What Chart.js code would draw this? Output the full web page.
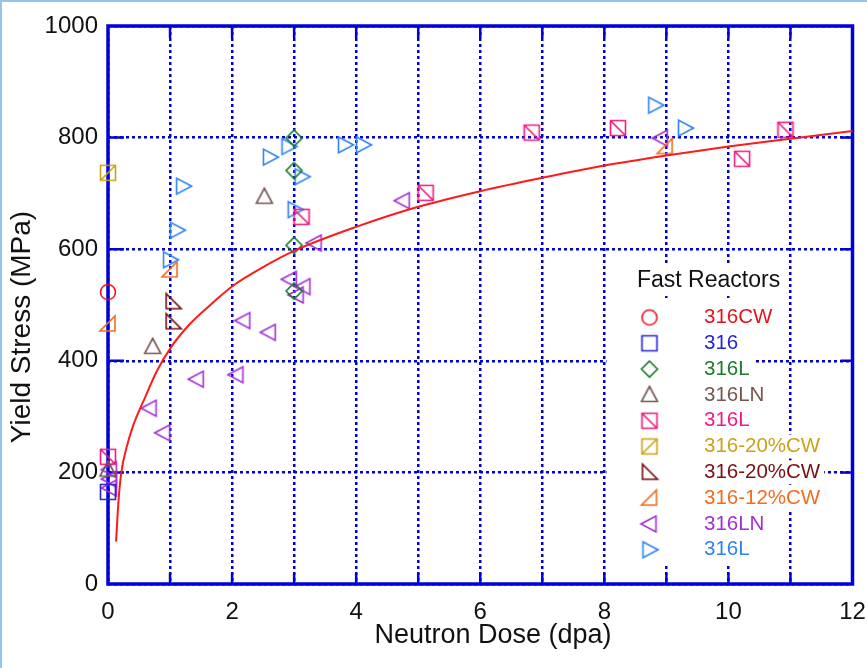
<!DOCTYPE html>
<html>
<head>
<meta charset="utf-8">
<script src="https://cdn.jsdelivr.net/npm/chart.js@4.4.1/dist/chart.umd.min.js"></script>
<style>
  html,body{margin:0;padding:0;background:#fff}
  canvas{display:block}
</style>
</head>
<body>
<canvas id="chart" width="867" height="668"></canvas>
<script>
// Yield stress vs neutron dose - Chart.js scatter
const FONT = '"Liberation Sans", Arial, Helvetica, sans-serif';
const BLUE = '#0000d8';

// axis ticks
const xLabeledTicks = [0, 2, 4, 6, 8, 10, 12];
const yTickStep = 200;
const xTitle = 'Neutron Dose (dpa)';
const yTitle = 'Yield Stress (MPa)';

// series (x = dpa, y = MPa)
const cw316X = [0];
const cw316Y = [523];
const s316X = [0];
const s316Y = [165];
const l316DiaX = [3, 3, 3, 3];
const l316DiaY = [799, 741, 607, 525];
const ln316UpX = [0.72, 2.52, 0];
const ln316UpY = [425, 694, 205];
const l316PinkX = [0, 3.12, 5.12, 6.83, 8.22, 10.22, 10.92];
const l316PinkY = [228, 658, 701, 809, 817, 762, 814];
const cw20GoldX = [0];
const cw20GoldY = [737];
const cw20RedX = [1.05, 1.05];
const cw20RedY = [506, 470];
const cw12X = [0, 1, 8.98];
const cw12Y = [466, 563, 784];
const ln316LeftX = [0.03, 0.03, 0.03, 0.67, 0.89, 1.43, 2.07, 2.18, 2.59, 2.93, 3.04, 3.15, 3.33, 4.75, 8.91];
const ln316LeftY = [205, 188, 172, 315, 271, 367, 375, 472, 451, 546, 518, 533, 611, 687, 799];
const l316RightX = [1, 1.11, 1.21, 2.61, 2.91, 3.01, 3.12, 3.82, 4.11, 8.82, 9.3];
const l316RightY = [581, 634, 713, 765, 784, 671, 730, 787, 787, 858, 817];

// fitted trend line
const fitX = [0.13, 0.17, 0.215, 0.3, 0.4, 0.5, 0.6, 0.78, 1.02, 1.32, 1.72, 2.02, 2.5, 3, 4, 5, 6, 7, 8, 9, 10, 11, 12];
const fitY = [76, 150, 200, 245, 282, 310, 335, 380, 425, 466, 507, 535, 568, 597, 640, 676, 704, 728, 750, 768, 784, 798, 812];

const legendTitle = 'Fast Reactors';

// marker images
function mk(shape, color){
  const c = document.createElement('canvas'); c.width = 22; c.height = 22;
  const g = c.getContext('2d'); g.strokeStyle = color; g.lineWidth = 1.6;
  const m = 11, h = 7.5;
  g.beginPath();
  if(shape==='circle'){ g.arc(m,m,7.5,0,Math.PI*2); }
  else if(shape==='square'){ g.rect(m-h,m-h,2*h,2*h); }
  else if(shape==='diamond'){ g.moveTo(m,m-8); g.lineTo(m+8,m); g.lineTo(m,m+8); g.lineTo(m-8,m); g.closePath(); }
  else if(shape==='triUp'){ g.moveTo(m,m-8.5); g.lineTo(m+8,m+6.5); g.lineTo(m-8,m+6.5); g.closePath(); }
  else if(shape==='sqBack'){ g.rect(m-h,m-h,2*h,2*h); g.moveTo(m-h,m-h); g.lineTo(m+h,m+h); }
  else if(shape==='sqSlash'){ g.rect(m-h,m-h,2*h,2*h); g.moveTo(m-h,m+h); g.lineTo(m+h,m-h); }
  else if(shape==='rtBL'){ g.moveTo(m-7,m-8); g.lineTo(m-7,m+7); g.lineTo(m+8,m+7); g.closePath(); }
  else if(shape==='rtBR'){ g.moveTo(m+7,m-8); g.lineTo(m+7,m+7); g.lineTo(m-8,m+7); g.closePath(); }
  else if(shape==='triLeft'){ g.moveTo(m-8.5,m); g.lineTo(m+6.5,m-8); g.lineTo(m+6.5,m+8); g.closePath(); }
  else if(shape==='triRight'){ g.moveTo(m+8.5,m); g.lineTo(m-6.5,m-8); g.lineTo(m-6.5,m+8); g.closePath(); }
  g.stroke();
  return c;
}

const series = [
  {label:'316CW', xs:cw316X, ys:cw316Y, shape:'circle', color:'#e3141b'},
  {label:'316', xs:s316X, ys:s316Y, shape:'square', color:'#2424d2'},
  {label:'316L', xs:l316DiaX, ys:l316DiaY, shape:'diamond', color:'#1b7a2a'},
  {label:'316LN', xs:ln316UpX, ys:ln316UpY, shape:'triUp', color:'#76574f'},
  {label:'316L', xs:l316PinkX, ys:l316PinkY, shape:'sqBack', color:'#f0197f'},
  {label:'316-20%CW', xs:cw20GoldX, ys:cw20GoldY, shape:'sqSlash', color:'#c9a317'},
  {label:'316-20%CW', xs:cw20RedX, ys:cw20RedY, shape:'rtBL', color:'#7a0f0f'},
  {label:'316-12%CW', xs:cw12X, ys:cw12Y, shape:'rtBR', color:'#f26d1e'},
  {label:'316LN', xs:ln316LeftX, ys:ln316LeftY, shape:'triLeft', color:'#a22fd4'},
  {label:'316L', xs:l316RightX, ys:l316RightY, shape:'triRight', color:'#2f83f2'}
];
series.forEach(s=> s.img = mk(s.shape, s.color));

const datasets = series.map(s=>({
  label: s.label,
  data: s.xs.map((x,i)=>({x, y:s.ys[i]})),
  pointStyle: s.img, pointRadius: 8, pointHoverRadius: 8,
  showLine: false, clip: false
}));
datasets.unshift({
  label: 'fit',
  data: fitX.map((x,i)=>({x, y:fitY[i]})),
  showLine: true, borderColor: '#ff1a1a', borderWidth: 2, pointRadius: 0,
  cubicInterpolationMode: 'monotone', clip: false
});

// white page + light blue edge + axis titles
const pagePlugin = {
  id:'page',
  beforeDraw(chart){ const c=chart.ctx; c.save(); c.fillStyle='#fff'; c.fillRect(0,0,chart.width,chart.height); c.restore(); },
  afterDraw(chart){
    const c=chart.ctx; c.save();
    c.fillStyle='#93c5ee'; c.fillRect(0,0,chart.width,2); c.fillRect(0,0,2,chart.height);
    c.fillStyle='#111'; c.textAlign='center'; c.textBaseline='middle';
    c.font='27px ' + FONT;
    c.fillText(xTitle, 493, 636);
    c.translate(22, 327); c.rotate(-Math.PI/2);
    c.font='28px ' + FONT;
    c.fillText(yTitle, 0, 0);
    c.restore();
  }
};

// solid frame + inward ticks
const framePlugin = {
  id:'frame',
  beforeDatasetsDraw(chart){
    const c = chart.ctx, a = chart.chartArea, xs = chart.scales.x, ys = chart.scales.y;
    c.save(); c.strokeStyle = BLUE; c.lineWidth = 2.5; c.setLineDash([]);
    c.beginPath();
    for(let v=1; v<12; v++){ const px = xs.getPixelForValue(v);
      c.moveTo(px,a.bottom); c.lineTo(px,a.bottom-11); c.moveTo(px,a.top); c.lineTo(px,a.top+12); }
    for(let v=yTickStep; v<1000; v+=yTickStep){ const py = ys.getPixelForValue(v);
      c.moveTo(a.left,py); c.lineTo(a.left+16,py); c.moveTo(a.right,py); c.lineTo(a.right-12,py); }
    c.stroke();
    c.lineWidth = 3.5;
    c.strokeRect(a.left, a.top, a.right-a.left, a.bottom-a.top);
    c.restore();
  }
};

// legend box with title
const legendPlugin = {
  id:'boxLegend',
  afterDatasetsDraw(chart){
    const c = chart.ctx;
    c.save();
    c.fillStyle = '#fff';
    c.fillRect(606.5, 264, 182, 30);
    c.fillRect(606.5, 298, 149, 268);
    c.font = '20.5px ' + FONT;
    c.textBaseline = 'middle';
    const rowY0 = 317.5, rowStep = 25.8;
    series.forEach((s,i)=>{
      const y = rowY0 + i*rowStep;
      const w = c.measureText(s.label).width;
      c.fillStyle = '#fff'; c.fillRect(702, y-12, w+6, 24);
    });
    c.fillStyle = '#111';
    c.font = '23px ' + FONT;
    c.fillText(legendTitle, 637, 281);
    c.font = '20.5px ' + FONT;
    series.forEach((s,i)=>{
      const y = rowY0 + i*rowStep;
      c.drawImage(s.img, 649.5-11, y-11);
      c.fillStyle = s.color; c.fillText(s.label, 704, y);
    });
    c.restore();
  }
};

new Chart(document.getElementById('chart'), {
  type:'scatter',
  data:{ datasets },
  options:{
    responsive:false, animation:false,
    layout:{ padding:{ top:26, right:14.5, left:0, bottom:0 } },
    plugins:{ legend:{display:false}, tooltip:{enabled:false} },
    scales:{
      x:{
        type:'linear', min:0, max:12,
        afterFit(s){ s.height = 84; s.paddingLeft = 0; s.paddingRight = 0; },
        border:{ display:false, dash:[3,3] },
        grid:{ color:BLUE, lineWidth:2.5, drawTicks:false },
        ticks:{ stepSize:1, autoSkip:false, maxRotation:0, padding:14, color:'#111',
          font:{ family:FONT, size:24 },
          callback:v=> xLabeledTicks.includes(v) ? String(v) : '' }
      },
      y:{
        type:'linear', min:0, max:1000,
        afterFit(s){ s.width = 108; s.paddingTop = 0; s.paddingBottom = 0; },
        border:{ display:false, dash:[3,3] },
        grid:{ color:BLUE, lineWidth:2.5, drawTicks:false },
        ticks:{ stepSize:yTickStep, padding:10, color:'#111', font:{ family:FONT, size:24 },
          callback:v=> String(v) }
      }
    }
  },
  plugins:[pagePlugin, framePlugin, legendPlugin]
});
</script>
</body>
</html>
